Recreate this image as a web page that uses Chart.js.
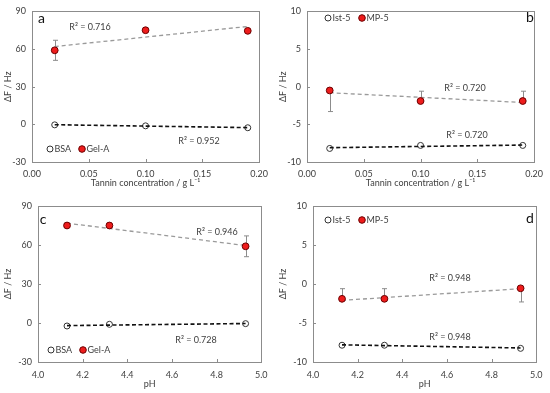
<!DOCTYPE html>
<html lang="en">
<head>
<meta charset="utf-8" />
<title>ΔF vs tannin concentration and pH</title>
<style>
  body { margin: 0; background: #fff; }
  .panel { position: absolute; }
</style>
</head>
<body>
<div class="panel" style="left:0;top:0"><canvas id="chartA" width="275" height="190"></canvas></div>
<div class="panel" style="left:275px;top:0"><canvas id="chartB" width="275" height="190"></canvas></div>
<div class="panel" style="left:0;top:190px"><canvas id="chartC" width="275" height="203"></canvas></div>
<div class="panel" style="left:275px;top:190px"><canvas id="chartD" width="275" height="203"></canvas></div>

<script src="https://cdn.jsdelivr.net/npm/chart.js@4.4.1/dist/chart.umd.min.js"></script>
<script>
// x values
const concX = [0.02, 0.10, 0.19];
const phX = [4.13, 4.32, 4.93];

// panel a - tannin concentration, BSA / Gel-A
const aGelA = [59, 75, 74.5];
const aGelAErrLo = [8, 0, 0];
const aGelAErrHi = [8, 0, 0];
const aBSA = [-0.4, -1.2, -2.7];
const aGelATrend = [62, 78];
const aBSATrend = [-0.3, -2.6];
const aR2 = ["R² = 0.716", "R² = 0.952"];

// panel b - tannin concentration, Ist-5 / MP-5
const bMP5 = [-0.5, -1.9, -1.9];
const bMP5ErrLo = [2.8, 0, 0];
const bMP5ErrHi = [0, 1.3, 1.3];
const bIst5 = [-8.2, -7.8, -7.8];
const bMP5Trend = [-0.8, -2.1];
const bIst5Trend = [-8.1, -7.75];
const bR2 = ["R² = 0.720", "R² = 0.720"];

// panel c - pH, BSA / Gel-A
const cGelA = [75, 75, 59];
const cGelAErrLo = [0, 0, 8];
const cGelAErrHi = [0, 0, 8];
const cBSA = [-2.3, -1.0, -0.5];
const cGelATrend = [76.8, 59.6];
const cBSATrend = [-2.0, -0.4];
const cR2 = ["R² = 0.946", "R² = 0.728"];

// panel d - pH, Ist-5 / MP-5
const dMP5 = [-1.9, -1.9, -0.55];
const dMP5ErrLo = [0, 0, 1.75];
const dMP5ErrHi = [1.3, 1.3, 0];
const dIst5 = [-7.85, -7.85, -8.25];
const dMP5Trend = [-2.1, -0.6];
const dIst5Trend = [-7.8, -8.2];
const dR2 = ["R² = 0.948", "R² = 0.948"];

// ticks
const concTicks = [0, 0.2, 0.05];
const phTicks = [4.0, 5.0, 0.2];
const gelTicks = [-30, 90, 30];
const mpTicks = [-10, 10, 5];

const FONT = "Lato, 'Open Sans', sans-serif";
const TXT = "#404040";

// frame, inner tick marks, error bars, legend, notes
const decoPlugin = {
    id: "deco",
    beforeDatasetsDraw(chart, args, o) {
        const ctx = chart.ctx, a = chart.chartArea;
        const xs = chart.scales.x, ys = chart.scales.y;
        ctx.save();
        ctx.strokeStyle = "#8c8c8c";
        ctx.lineWidth = 1;
        ctx.strokeRect(Math.round(a.left) + 0.5, Math.round(a.top) + 0.5, Math.round(a.right - a.left), Math.round(a.bottom - a.top));
        ctx.beginPath();
        xs.ticks.forEach(t => {
            const px = Math.round(xs.getPixelForValue(t.value)) + 0.5;
            ctx.moveTo(px, a.bottom); ctx.lineTo(px, a.bottom - 3);
        });
        ys.ticks.forEach(t => {
            const py = Math.round(ys.getPixelForValue(t.value)) + 0.5;
            ctx.moveTo(a.left, py); ctx.lineTo(a.left + 3, py);
        });
        ctx.stroke();
        // error bars
        ctx.beginPath();
        o.x.forEach((x, i) => {
            const px = Math.round(xs.getPixelForValue(x)) + 0.5;
            const y0 = ys.getPixelForValue(o.y[i]);
            [[o.hi[i], 1], [o.lo[i], -1]].forEach(([e, s]) => {
                if (!e) return;
                const y1 = ys.getPixelForValue(o.y[i] + s * e);
                ctx.moveTo(px, y0); ctx.lineTo(px, y1);
                ctx.moveTo(px - 2.5, y1); ctx.lineTo(px + 2.5, y1);
            });
        });
        ctx.stroke();
        ctx.restore();
    },
    afterDraw(chart, args, o) {
        const ctx = chart.ctx;
        ctx.save();
        ctx.fillStyle = TXT;
        ctx.textBaseline = "middle";
        ctx.font = "9px " + FONT;
        ctx.textAlign = "center";
        o.notes.forEach((n, i) => ctx.fillText(n, o.notePos[i][0], o.notePos[i][1]));
        // legend
        const L = o.legend;
        ctx.textAlign = "left";
        ctx.beginPath();
        ctx.arc(L.x, L.y, 3, 0, Math.PI * 2);
        ctx.strokeStyle = "#333"; ctx.lineWidth = 1; ctx.stroke();
        ctx.fillText(L.open, L.x + 4.5, L.y);
        ctx.beginPath();
        ctx.arc(L.x2, L.y, 3.3, 0, Math.PI * 2);
        ctx.fillStyle = "#ee1c1c"; ctx.fill();
        ctx.strokeStyle = "#6b0000"; ctx.stroke();
        ctx.fillStyle = TXT;
        ctx.fillText(L.filled, L.x2 + 4.5, L.y);
        // panel letter
        ctx.font = "14px " + FONT;
        ctx.fillStyle = "#111";
        ctx.textAlign = "center";
        ctx.fillText(o.letter, o.letterPos[0], o.letterPos[1]);
        ctx.restore();
    }
};

function pts(xs, ys) {
    return xs.map((x, i) => ({ x: x, y: ys[i] }));
}

function makeChart(id, p) {
    const tx = [p.x[0], p.x[p.x.length - 1]];
    return new Chart(document.getElementById(id), {
        type: "scatter",
        data: {
            datasets: [
                { label: p.filledName, data: pts(p.x, p.filled), backgroundColor: "#ee1c1c", borderColor: "#6b0000", borderWidth: 1, pointRadius: 3.4 },
                { label: p.filledName + " fit", data: pts(tx, p.filledTrend), showLine: true, borderColor: "#9a9a9a", borderDash: [4, 3], borderWidth: 1.3, pointRadius: 0 },
                { label: p.openName + " fit", data: pts(tx, p.openTrend), showLine: true, borderColor: "#111", borderDash: [4, 2.5], borderWidth: 1.6, pointRadius: 0 },
                { label: p.openName, data: pts(p.x, p.open), backgroundColor: "rgba(0,0,0,0)", borderColor: "#333", borderWidth: 1, pointRadius: 3 },
            ],
        },
        plugins: [decoPlugin],
        options: {
            responsive: false,
            animation: false,
            layout: { padding: { top: p.padTop, right: 12, left: 0, bottom: 0 } },
            plugins: {
                legend: { display: false },
                tooltip: { enabled: false },
                deco: {
                    x: p.x, y: p.filled, lo: p.errLo, hi: p.errHi,
                    notes: p.notes, notePos: p.notePos,
                    legend: p.legend, letter: p.letter, letterPos: p.letterPos,
                },
            },
            scales: {
                x: {
                    type: "linear", min: p.xt[0], max: p.xt[1],
                    afterFit: s => { s.height = p.xH; },
                    ticks: { stepSize: p.xt[2], callback: v => v.toFixed(p.xDec), padding: p.xPad, color: TXT, font: { family: FONT, size: 9 }, maxRotation: 0, autoSkip: false },
                    grid: { display: false, drawTicks: false },
                    border: { display: false },
                    title: { display: true, text: p.xTitle, color: TXT, font: { family: FONT, size: 9 }, padding: { top: 0, bottom: p.xTitlePad } },
                },
                y: {
                    type: "linear", min: p.yt[0], max: p.yt[1],
                    afterFit: s => { s.width = p.yW; },
                    ticks: { stepSize: p.yt[2], padding: 6, color: TXT, font: { family: FONT, size: 9 } },
                    grid: { display: false, drawTicks: false },
                    border: { display: false },
                    title: { display: true, text: "ΔF / Hz", color: TXT, font: { family: FONT, size: 9 }, padding: { top: 2.6, bottom: 0 } },
                },
            },
        },
    });
}

const concTitle = "Tannin concentration / g L⁻¹";

makeChart("chartA", {
    x: concX, filled: aGelA, errLo: aGelAErrLo, errHi: aGelAErrHi, open: aBSA,
    filledTrend: aGelATrend, openTrend: aBSATrend, filledName: "Gel-A", openName: "BSA",
    xt: concTicks, yt: gelTicks, xDec: 2, xTitle: concTitle,
    padTop: 6, xH: 28, yW: 32, xPad: 7, xTitlePad: 1.2,
    notes: aR2, notePos: [[90, 27], [199, 141]],
    legend: { x: 50, x2: 82, y: 149, open: "BSA", filled: "Gel-A" },
    letter: "a", letterPos: [41.5, 18],
});

makeChart("chartB", {
    x: concX, filled: bMP5, errLo: bMP5ErrLo, errHi: bMP5ErrHi, open: bIst5,
    filledTrend: bMP5Trend, openTrend: bIst5Trend, filledName: "MP-5", openName: "Ist-5",
    xt: concTicks, yt: mpTicks, xDec: 2, xTitle: concTitle,
    padTop: 6, xH: 28, yW: 32, xPad: 7, xTitlePad: 1.2,
    notes: bR2, notePos: [[190, 88], [192, 135]],
    legend: { x: 53, x2: 87, y: 18, open: "Ist-5", filled: "MP-5" },
    letter: "b", letterPos: [255, 17],
});

makeChart("chartC", {
    x: phX, filled: cGelA, errLo: cGelAErrLo, errHi: cGelAErrHi, open: cBSA,
    filledTrend: cGelATrend, openTrend: cBSATrend, filledName: "Gel-A", openName: "BSA",
    xt: phTicks, yt: gelTicks, xDec: 1, xTitle: "pH",
    padTop: 16, xH: 31, yW: 38, xPad: 7.5, xTitlePad: 3.2,
    notes: cR2, notePos: [[217, 42], [196, 150]],
    legend: { x: 51, x2: 83, y: 160, open: "BSA", filled: "Gel-A" },
    letter: "c", letterPos: [43, 29],
});

makeChart("chartD", {
    x: phX, filled: dMP5, errLo: dMP5ErrLo, errHi: dMP5ErrHi, open: dIst5,
    filledTrend: dMP5Trend, openTrend: dIst5Trend, filledName: "MP-5", openName: "Ist-5",
    xt: phTicks, yt: mpTicks, xDec: 1, xTitle: "pH",
    padTop: 16, xH: 31, yW: 38, xPad: 7.5, xTitlePad: 3.2,
    notes: dR2, notePos: [[175, 88], [175, 147]],
    legend: { x: 53, x2: 87, y: 30, open: "Ist-5", filled: "MP-5" },
    letter: "d", letterPos: [255, 28],
});
</script>
</body>
</html>
